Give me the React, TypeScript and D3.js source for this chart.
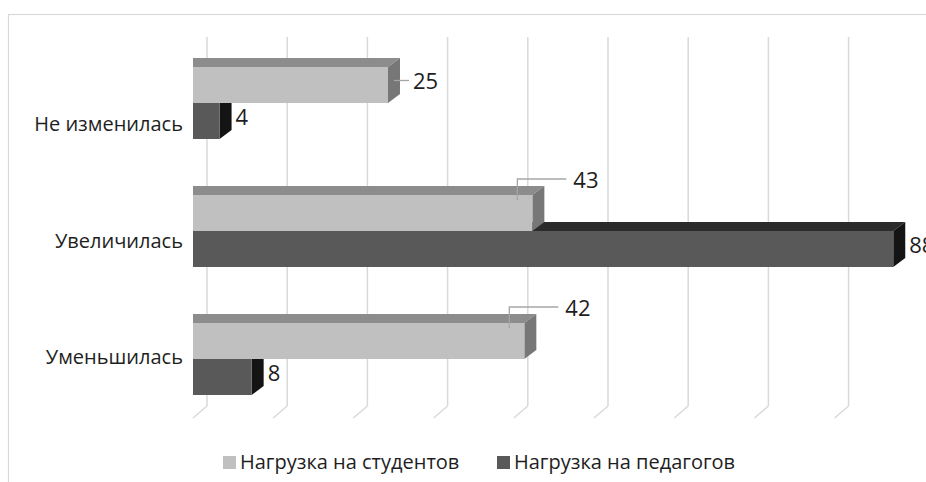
import React from "react";
import * as d3 from "d3";

const categories = ["Не изменилась", "Увеличилась", "Уменьшилась"];
const seriesNames = ["Нагрузка на студентов", "Нагрузка на педагогов"];
const students = [25, 43, 42];
const teachers = [4, 88, 8];
const gridTicks = [0, 10, 20, 30, 40, 50, 60, 70, 80];

const W = 926;
const H = 482;
const FONT = "'Open Sans', 'Noto Sans', sans-serif";

const faceColors = [
  { front: "#c0c0c0", top: "#8c8c8c", side: "#777777", legend: "#c0c0c0" },
  { front: "#595959", top: "#2b2b2b", side: "#141414", legend: "#595959" },
];

export default function App() {
  const x = d3.scaleLinear().domain([0, 90]).range([187.5, 909.3]);
  const axisX = 193; // left clipping plane of bars
  const depthX = 12;
  const depthY = -9;
  const wallX = 19.5;
  const wallTop = 37;
  const wallBottom = 406;
  const floorDx = -14;
  const floorDy = 12;

  const y0 = d3
    .scaleBand<string>()
    .domain(categories)
    .range([39, 39 + 3 * 128])
    .paddingInner(0.4375)
    .paddingOuter(0.21875);
  const y1 = d3.scaleBand<number>().domain([0, 1]).range([0, y0.bandwidth()]);
  const yLabel = d3.scalePoint<string>().domain(categories).range([125, 358]);

  const series = [students, teachers];

  const barShapes = (v: number, top: number, h: number, c: typeof faceColors[0], key: string) => {
    const x1 = x(v);
    const bottom = top + h;
    return (
      <g key={key}>
        <polygon
          points={`${axisX},${top} ${x1},${top} ${x1 + depthX},${top + depthY} ${axisX},${top + depthY}`}
          fill={c.top}
        />
        <polygon
          points={`${x1},${top} ${x1 + depthX},${top + depthY} ${x1 + depthX},${bottom + depthY} ${x1},${bottom}`}
          fill={c.side}
        />
        <rect x={axisX} y={top} width={x1 - axisX} height={h} fill={c.front} />
      </g>
    );
  };

  const textStyle = { fontFamily: FONT, fill: "#1e1e1e" } as const;

  return (
    <svg
      width={W}
      height={H}
      style={{ position: "absolute", left: 0, top: 0, background: "#fff" }}
    >
      <rect x={0} y={0} width={W} height={H} fill="#ffffff" />
      <rect x={8.5} y={14.5} width={1000} height={1000} fill="none" stroke="#d9d9d9" strokeWidth={1.2} />

      {/* gridlines on back wall + floor */}
      {gridTicks.map((t) => {
        const gx = x(t) + wallX;
        return (
          <g key={t}>
            <line x1={gx} x2={gx} y1={wallTop} y2={wallBottom} stroke="#d9d9d9" strokeWidth={1.5} />
            <line
              x1={gx}
              x2={gx + floorDx}
              y1={wallBottom}
              y2={wallBottom + floorDy}
              stroke="#d9d9d9"
              strokeWidth={1.5}
            />
          </g>
        );
      })}

      {/* bars: dark series first, then light series over it */}
      {categories.map((cat, i) =>
        [1, 0].map((s) =>
          barShapes(series[s][i], (y0(cat) ?? 0) + (y1(s) ?? 0), y1.bandwidth(), faceColors[s], `${cat}-${s}`)
        )
      )}

      {/* data labels */}
      {categories.map((cat, i) => {
        const els: React.ReactNode[] = [];
        const v = students[i];
        const top = (y0(cat) ?? 0) + (y1(0) ?? 0);
        const h = y1.bandwidth();
        const xe = x(v);
        if (v > 30) {
          els.push(
            <polyline
              key={`l${i}`}
              points={`${xe - 15},${top + 5} ${xe - 15},${top - 16} ${xe + 34},${top - 16}`}
              fill="none"
              stroke="#a6a6a6"
              strokeWidth={1.3}
            />
          );
          els.push(
            <text key={`t${i}`} x={xe + 41} y={top - 7} fontSize={22} style={textStyle}>
              {v}
            </text>
          );
        } else {
          const cy = top + h / 2 + depthY / 2;
          els.push(
            <line key={`l${i}`} x1={xe + depthX / 2} x2={xe + 21} y1={cy} y2={cy} stroke="#a6a6a6" strokeWidth={1.3} />
          );
          els.push(
            <text key={`t${i}`} x={xe + 25} y={cy + 8} fontSize={22} style={textStyle}>
              {v}
            </text>
          );
        }
        const tv = teachers[i];
        const ttop = (y0(cat) ?? 0) + (y1(1) ?? 0);
        const tcy = ttop + h / 2 + depthY / 2;
        els.push(
          <text key={`tt${i}`} x={x(tv) + depthX + 4} y={tcy + 8} fontSize={22} style={textStyle}>
            {tv}
          </text>
        );
        return <g key={cat}>{els}</g>;
      })}

      {/* category labels */}
      {categories.map((cat) => (
        <text
          key={cat}
          x={183}
          y={(yLabel(cat) ?? 0) + 6}
          textAnchor="end"
          fontSize={20}
          style={textStyle}
        >
          {cat}
        </text>
      ))}

      {/* legend */}
      {seriesNames.map((name, s) => {
        const lx = s === 0 ? 223 : 497;
        return (
          <g key={name}>
            <rect x={lx} y={456} width={13} height={13} fill={faceColors[s].legend} />
            <text x={lx + 17} y={469} fontSize={20} style={textStyle}>
              {name}
            </text>
          </g>
        );
      })}
    </svg>
  );
}
